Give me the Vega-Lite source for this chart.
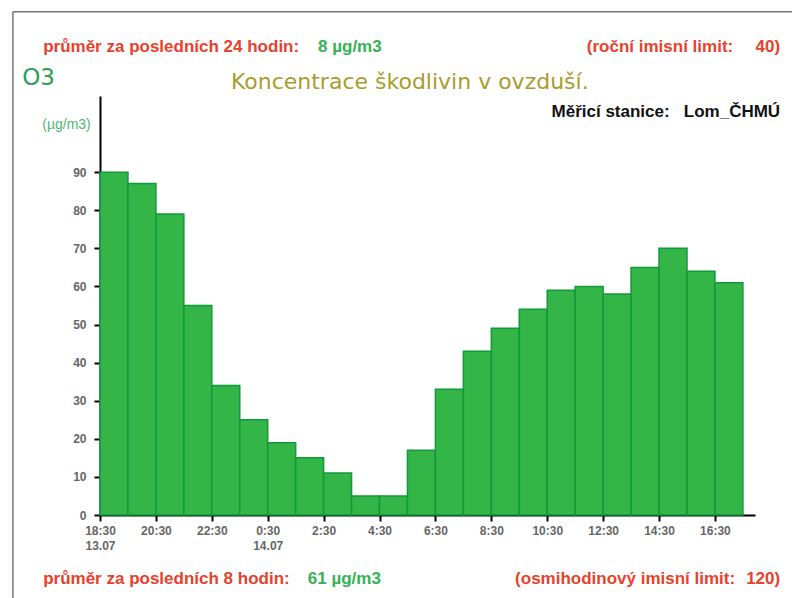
{
  "$schema": "https://vega.github.io/schema/vega-lite/v6.json",
  "autosize": "none",
  "padding": {"left": 100, "top": 96, "right": 37, "bottom": 83},
  "width": 655,
  "height": 419,
  "background": "white",
  "config": {"view": {"stroke": null}},
  "layer": [
    {
      "data": {"values": [
        {"start": "2009-07-13T18:30", "end": "2009-07-13T19:30", "value": 90},
        {"start": "2009-07-13T19:30", "end": "2009-07-13T20:30", "value": 87},
        {"start": "2009-07-13T20:30", "end": "2009-07-13T21:30", "value": 79},
        {"start": "2009-07-13T21:30", "end": "2009-07-13T22:30", "value": 55},
        {"start": "2009-07-13T22:30", "end": "2009-07-13T23:30", "value": 34},
        {"start": "2009-07-13T23:30", "end": "2009-07-14T00:30", "value": 25},
        {"start": "2009-07-14T00:30", "end": "2009-07-14T01:30", "value": 19},
        {"start": "2009-07-14T01:30", "end": "2009-07-14T02:30", "value": 15},
        {"start": "2009-07-14T02:30", "end": "2009-07-14T03:30", "value": 11},
        {"start": "2009-07-14T03:30", "end": "2009-07-14T04:30", "value": 5},
        {"start": "2009-07-14T04:30", "end": "2009-07-14T05:30", "value": 5},
        {"start": "2009-07-14T05:30", "end": "2009-07-14T06:30", "value": 17},
        {"start": "2009-07-14T06:30", "end": "2009-07-14T07:30", "value": 33},
        {"start": "2009-07-14T07:30", "end": "2009-07-14T08:30", "value": 43},
        {"start": "2009-07-14T08:30", "end": "2009-07-14T09:30", "value": 49},
        {"start": "2009-07-14T09:30", "end": "2009-07-14T10:30", "value": 54},
        {"start": "2009-07-14T10:30", "end": "2009-07-14T11:30", "value": 59},
        {"start": "2009-07-14T11:30", "end": "2009-07-14T12:30", "value": 60},
        {"start": "2009-07-14T12:30", "end": "2009-07-14T13:30", "value": 58},
        {"start": "2009-07-14T13:30", "end": "2009-07-14T14:30", "value": 65},
        {"start": "2009-07-14T14:30", "end": "2009-07-14T15:30", "value": 70},
        {"start": "2009-07-14T15:30", "end": "2009-07-14T16:30", "value": 64},
        {"start": "2009-07-14T16:30", "end": "2009-07-14T17:30", "value": 61}
      ]},
      "mark": {"type": "bar", "color": "#33b548", "stroke": "#12993a", "strokeWidth": 1.5},
      "encoding": {
        "x": {
          "field": "start", "type": "temporal",
          "scale": {"domain": [{"year": 2009, "month": 7, "date": 13, "hours": 18, "minutes": 30}, {"year": 2009, "month": 7, "date": 14, "hours": 17, "minutes": 56}], "nice": false},
          "axis": {
            "title": null, "grid": false,
            "values": [
              {"year": 2009, "month": 7, "date": 13, "hours": 18, "minutes": 30},
              {"year": 2009, "month": 7, "date": 13, "hours": 19, "minutes": 30},
              {"year": 2009, "month": 7, "date": 13, "hours": 20, "minutes": 30},
              {"year": 2009, "month": 7, "date": 13, "hours": 21, "minutes": 30},
              {"year": 2009, "month": 7, "date": 13, "hours": 22, "minutes": 30},
              {"year": 2009, "month": 7, "date": 13, "hours": 23, "minutes": 30},
              {"year": 2009, "month": 7, "date": 14, "hours": 0, "minutes": 30},
              {"year": 2009, "month": 7, "date": 14, "hours": 1, "minutes": 30},
              {"year": 2009, "month": 7, "date": 14, "hours": 2, "minutes": 30},
              {"year": 2009, "month": 7, "date": 14, "hours": 3, "minutes": 30},
              {"year": 2009, "month": 7, "date": 14, "hours": 4, "minutes": 30},
              {"year": 2009, "month": 7, "date": 14, "hours": 5, "minutes": 30},
              {"year": 2009, "month": 7, "date": 14, "hours": 6, "minutes": 30},
              {"year": 2009, "month": 7, "date": 14, "hours": 7, "minutes": 30},
              {"year": 2009, "month": 7, "date": 14, "hours": 8, "minutes": 30},
              {"year": 2009, "month": 7, "date": 14, "hours": 9, "minutes": 30},
              {"year": 2009, "month": 7, "date": 14, "hours": 10, "minutes": 30},
              {"year": 2009, "month": 7, "date": 14, "hours": 11, "minutes": 30},
              {"year": 2009, "month": 7, "date": 14, "hours": 12, "minutes": 30},
              {"year": 2009, "month": 7, "date": 14, "hours": 13, "minutes": 30},
              {"year": 2009, "month": 7, "date": 14, "hours": 14, "minutes": 30},
              {"year": 2009, "month": 7, "date": 14, "hours": 15, "minutes": 30},
              {"year": 2009, "month": 7, "date": 14, "hours": 16, "minutes": 30},
              {"year": 2009, "month": 7, "date": 14, "hours": 17, "minutes": 30}
            ],
            "format": "%-H:%M",
            "labelExpr": "hours(datum.value) % 2 == 0 ? (hours(datum.value) == 18 ? [datum.label, '13.07'] : (hours(datum.value) == 0 ? [datum.label, '14.07'] : datum.label)) : ''",
            "labelFont": "Liberation Sans", "labelFontSize": 12, "labelFontWeight": "bold", "labelColor": "#666666",
            "labelLineHeight": 15, "labelPadding": 4, "labelOverlap": false, "labelFlush": false,
            "domainColor": "black", "domainWidth": 2, "tickColor": "black", "tickWidth": 2, "tickSize": 6
          }
        },
        "x2": {"field": "end"},
        "y": {
          "field": "value", "type": "quantitative",
          "scale": {"domain": [0, 110], "nice": false},
          "axis": {
            "title": null, "grid": false, "values": [0, 10, 20, 30, 40, 50, 60, 70, 80, 90],
            "labelFont": "Liberation Sans", "labelFontSize": 12, "labelFontWeight": "bold", "labelColor": "#666666",
            "labelPadding": 8,
            "domainColor": "black", "domainWidth": 2, "tickColor": "black", "tickWidth": 2, "tickSize": 6
          }
        },
        "y2": {"datum": 0}
      }
    },
    {
      "data": {"values": [{}]},
      "mark": {"type": "rule", "color": "#777777", "strokeWidth": 1.5},
      "encoding": {
        "x": {"datum": {"year": 2009, "month": 7, "date": 13, "hours": 15, "minutes": 23}, "type": "temporal"},
        "y": {"datum": 132.1},
        "y2": {"datum": -30}
      }
    },
    {
      "data": {"values": [{}]},
      "mark": {"type": "rule", "color": "#777777", "strokeWidth": 1.5},
      "encoding": {
        "x": {"datum": {"year": 2009, "month": 7, "date": 13, "hours": 15, "minutes": 23}, "type": "temporal"},
        "x2": {"datum": {"year": 2009, "month": 7, "date": 14, "hours": 19, "minutes": 40}},
        "y": {"datum": 132.1}
      }
    },
    {
      "data": {"values": [{}]},
      "mark": {"type": "text", "text": "průměr za posledních 24 hodin:", "align": "left", "baseline": "middle", "font": "Liberation Sans", "fontSize": 17, "fontWeight": "bold", "color": "#e8412c"},
      "encoding": {
        "x": {"datum": {"year": 2009, "month": 7, "date": 13, "hours": 16, "minutes": 28}, "type": "temporal"},
        "y": {"datum": 122.9}
      }
    },
    {
      "data": {"values": [{}]},
      "mark": {"type": "text", "text": "8 µg/m3", "align": "left", "baseline": "middle", "font": "Liberation Sans", "fontSize": 17, "fontWeight": "bold", "color": "#35b255"},
      "encoding": {
        "x": {"datum": {"year": 2009, "month": 7, "date": 14, "hours": 2, "minutes": 18}, "type": "temporal"},
        "y": {"datum": 122.9}
      }
    },
    {
      "data": {"values": [{}]},
      "mark": {"type": "text", "text": "(roční imisní limit:", "align": "left", "baseline": "middle", "font": "Liberation Sans", "fontSize": 17, "fontWeight": "bold", "color": "#e8412c"},
      "encoding": {
        "x": {"datum": {"year": 2009, "month": 7, "date": 14, "hours": 11, "minutes": 55}, "type": "temporal"},
        "y": {"datum": 122.9}
      }
    },
    {
      "data": {"values": [{}]},
      "mark": {"type": "text", "text": "40)", "align": "right", "baseline": "middle", "font": "Liberation Sans", "fontSize": 17, "fontWeight": "bold", "color": "#e8412c"},
      "encoding": {
        "x": {"datum": {"year": 2009, "month": 7, "date": 14, "hours": 18, "minutes": 50}, "type": "temporal"},
        "y": {"datum": 122.9}
      }
    },
    {
      "data": {"values": [{}]},
      "mark": {"type": "text", "text": "O3", "align": "left", "baseline": "middle", "font": "DejaVu Sans", "fontSize": 23, "color": "#2e9e58"},
      "encoding": {
        "x": {"datum": {"year": 2009, "month": 7, "date": 13, "hours": 15, "minutes": 43}, "type": "temporal"},
        "y": {"datum": 114.7}
      }
    },
    {
      "data": {"values": [{}]},
      "mark": {"type": "text", "text": "Koncentrace škodlivin v ovzduší.", "align": "center", "baseline": "middle", "font": "DejaVu Sans", "fontSize": 22, "color": "#a99c2c"},
      "encoding": {
        "x": {"datum": {"year": 2009, "month": 7, "date": 14, "hours": 5, "minutes": 35}, "type": "temporal"},
        "y": {"datum": 113.7}
      }
    },
    {
      "data": {"values": [{}]},
      "mark": {"type": "text", "text": "Měřicí stanice:\u00a0\u00a0\u00a0Lom_ČHMÚ", "align": "right", "baseline": "middle", "font": "Liberation Sans", "fontSize": 17, "fontWeight": "bold", "color": "#111111"},
      "encoding": {
        "x": {"datum": {"year": 2009, "month": 7, "date": 14, "hours": 18, "minutes": 50}, "type": "temporal"},
        "y": {"datum": 105.8}
      }
    },
    {
      "data": {"values": [{}]},
      "mark": {"type": "text", "text": "(µg/m3)", "align": "left", "baseline": "middle", "font": "Liberation Sans", "fontSize": 14, "color": "#4fb574"},
      "encoding": {
        "x": {"datum": {"year": 2009, "month": 7, "date": 13, "hours": 16, "minutes": 26}, "type": "temporal"},
        "y": {"datum": 102.4}
      }
    },
    {
      "data": {"values": [{}]},
      "mark": {"type": "text", "text": "průměr za posledních 8 hodin:", "align": "left", "baseline": "middle", "font": "Liberation Sans", "fontSize": 17, "fontWeight": "bold", "color": "#e8412c"},
      "encoding": {
        "x": {"datum": {"year": 2009, "month": 7, "date": 13, "hours": 16, "minutes": 28}, "type": "temporal"},
        "y": {"datum": -16.8}
      }
    },
    {
      "data": {"values": [{}]},
      "mark": {"type": "text", "text": "61 µg/m3", "align": "left", "baseline": "middle", "font": "Liberation Sans", "fontSize": 17, "fontWeight": "bold", "color": "#35b255"},
      "encoding": {
        "x": {"datum": {"year": 2009, "month": 7, "date": 14, "hours": 1, "minutes": 56}, "type": "temporal"},
        "y": {"datum": -16.8}
      }
    },
    {
      "data": {"values": [{}]},
      "mark": {"type": "text", "text": "(osmihodinový imisní limit:", "align": "left", "baseline": "middle", "font": "Liberation Sans", "fontSize": 17, "fontWeight": "bold", "color": "#e8412c"},
      "encoding": {
        "x": {"datum": {"year": 2009, "month": 7, "date": 14, "hours": 9, "minutes": 21}, "type": "temporal"},
        "y": {"datum": -16.8}
      }
    },
    {
      "data": {"values": [{}]},
      "mark": {"type": "text", "text": "120)", "align": "right", "baseline": "middle", "font": "Liberation Sans", "fontSize": 17, "fontWeight": "bold", "color": "#e8412c"},
      "encoding": {
        "x": {"datum": {"year": 2009, "month": 7, "date": 14, "hours": 18, "minutes": 50}, "type": "temporal"},
        "y": {"datum": -16.8}
      }
    }
  ]
}
